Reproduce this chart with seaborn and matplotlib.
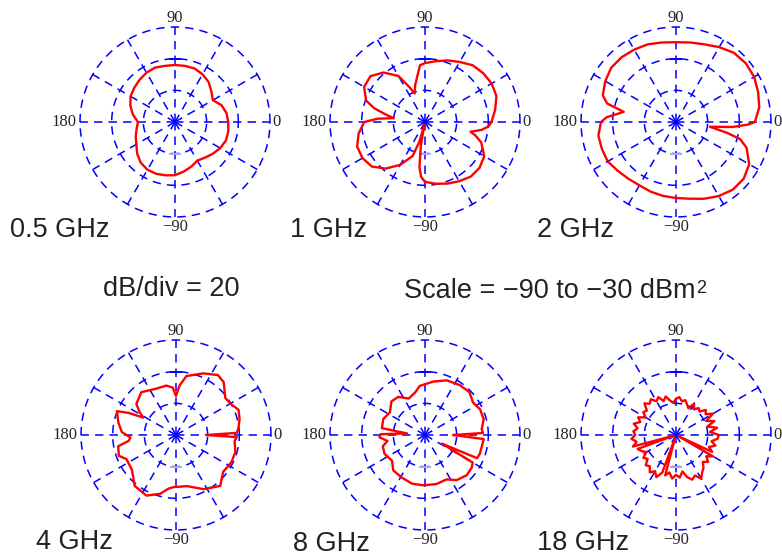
import numpy as np
import seaborn as sns
import matplotlib.pyplot as plt
from matplotlib import font_manager

# RCS patterns in dBsm, angle in degrees
ang_05 = [0, 10, 20, 30, 40, 50, 60, 70, 80, 90, 100, 110, 120, 130, 140, 150, 160, 170,
          180, 190, 200, 210, 220, 230, 240, 250, 260, 270, 280, 290, 300, 310, 320, 330, 340, 350]
rcs_05 = [-56.4, -57, -58.8, -62.4, -60, -57, -55.2, -54, -54, -54, -54, -53.4, -54, -55.2,
          -56.4, -57.6, -60, -63, -66.6, -65.4, -63.6, -61.8, -58.8, -56.4, -55.2, -55.2,
          -55.8, -56.4, -58.2, -60, -61.8, -60.6, -58.8, -57, -55.8, -55.8]

ang_1 = [0, 10, 20, 30, 40, 50, 60, 70, 80, 90, 95, 100, 105, 110, 114, 120, 130, 140, 150,
         160, 165, 170, 173, 176, 180, 190, 200, 210, 220, 230, 240, 250, 254, 257, 260, 263,
         266, 270, 280, 290, 300, 310, 320, 330, 340, 345, 348, 352, 356]
rcs_1 = [-48, -45, -42, -41.4, -42, -43.2, -46.2, -48.6, -51, -52.8, -54, -61.2, -66, -70.8,
         -66, -56.4, -49.2, -45, -45.6, -50.4, -57, -66, -70.2, -60, -51.6, -47.4, -44.4,
         -44.4, -46.2, -51.6, -58.8, -67.2, -76.8, -88.2, -75, -61.2, -55.2, -52.2, -50.4,
         -48.6, -46.8, -45, -45, -46.8, -52.2, -57, -60.6, -54, -49.8]

ang_2 = [0, 10, 20, 30, 40, 50, 60, 70, 80, 90, 100, 110, 120, 130, 140, 150, 160, 165, 169,
         172, 176, 180, 190, 200, 210, 220, 230, 240, 250, 260, 270, 280, 290, 300, 310, 320,
         330, 340, 345, 348, 352, 355, 358]
rcs_2 = [-40.2, -36.6, -34.8, -33, -32.4, -33, -35.4, -37.8, -39, -39.6, -39, -37.8, -37.2,
         -36.6, -36.6, -38.4, -40.8, -45, -56.4, -52.8, -46.2, -42.6, -40.2, -40.2, -40.2,
         -42, -43.2, -43.8, -43.2, -42.6, -42, -40.8, -38.4, -36, -34.2, -34.2, -36.6, -42.6,
         -48, -57, -68.4, -54, -44.4]

ang_4 = [0, 2, 6, 14, 22, 30, 37, 48, 55, 66, 80, 86, 90, 94, 101, 113, 129, 142, 148, 152,
         155, 158, 168, 177, 183, 187, 191, 200, 206, 218, 231, 244, 255, 262, 267, 282, 297,
         311, 322, 334, 344, 354, 358]
rcs_4 = [-70.8, -51.6, -50.4, -48.6, -47.4, -50.4, -51, -45, -43.8, -47.4, -52.2, -58.8, -65.4,
         -60, -58.2, -58.2, -55.2, -58.2, -63, -66.6, -57, -49.8, -52.8, -55.8, -61.2, -60,
         -52.8, -51.6, -55.2, -54.6, -48.6, -47.4, -51.6, -55.8, -57, -57, -51.6, -47.4, -52.2,
         -51, -51, -52.8, -51.6]

ang_8 = [0, 2, 6, 15, 25, 34, 44, 55, 68, 81, 96, 103, 114, 125, 135, 147, 159, 171, 175, 179,
         183, 189, 195, 205, 218, 228, 241, 255, 268, 283, 296, 305, 316, 325, 330, 333, 336,
         341, 349, 356]
rcs_8 = [-72, -53.4, -54, -51.6, -51.6, -53.4, -51, -51.6, -52.8, -55.8, -58.8, -62.4, -64.8,
         -60.6, -60, -63.6, -61.8, -62.4, -78.6, -61.8, -61.2, -66, -62.4, -61.8, -63.6, -60,
         -59.4, -58.2, -58.2, -58.2, -58.8, -55.2, -53.4, -54, -55.2, -78, -54, -53.4, -53.4,
         -52.8]

ang_18 = [0, 5, 10, 15, 20, 25, 30, 35, 40, 45, 50, 55, 60, 65, 70, 75, 80, 85, 90, 95, 100,
          105, 110, 115, 120, 125, 130, 135, 140, 145, 150, 155, 160, 165, 170, 175, 180, 185,
          190, 195, 196, 200, 205, 210, 215, 220, 225, 230, 235, 240, 245, 250, 252, 255, 260,
          265, 270, 275, 280, 285, 290, 295, 300, 305, 310, 315, 320, 325, 330, 334, 335, 340,
          345, 350, 355]
rcs_18 = [-63, -68.4, -63.6, -69.6, -64.2, -69, -63, -67.2, -65.4, -69, -67.8, -70.2, -67.2,
          -71.4, -69.6, -67.2, -68.4, -66, -67.2, -69.6, -67.8, -64.8, -67.2, -63.6, -65.4,
          -62.4, -64.2, -61.8, -66, -64.8, -67.8, -63.6, -66, -62.4, -65.4, -63, -64.2, -61.8,
          -64.8, -61.8, -88.2, -64.2, -66, -68.4, -64.8, -66.6, -63, -64.2, -61.2, -63.6, -60.6,
          -64.8, -88.2, -63.6, -66, -62.4, -64.8, -63, -66.6, -62.4, -60, -61.8, -58.2, -61.2,
          -63, -66, -63.6, -66.6, -63, -88.2, -64.8, -67.8, -64.2, -67.2, -63.6]

freq_labels = ['0.5 GHz', '1 GHz', '2 GHz', '4 GHz', '8 GHz', '18 GHz']
patterns = [(ang_05, rcs_05), (ang_1, rcs_1), (ang_2, rcs_2),
            (ang_4, rcs_4), (ang_8, rcs_8), (ang_18, rcs_18)]
ring_levels = [-70, -50, -30]
angle_labels = {0: '0', 90: '90', 180: '180', 270: '\u221290'}

W, H = 782, 557
R = 95
centers = [(175, 122), (425, 122), (676, 122), (176, 435), (425, 435), (676, 435)]
label_pos = [(10, 230), (290, 230), (537, 230), (36, 542), (293, 544), (537, 543)]

names = {f.name for f in font_manager.fontManager.ttflist}
sans = 'Liberation Sans' if 'Liberation Sans' in names else 'DejaVu Sans'
serif = 'Liberation Serif' if 'Liberation Serif' in names else 'DejaVu Serif'

sns.set_style('white')
plt.rcParams['font.family'] = [sans, 'DejaVu Sans']

fig = plt.figure(figsize=(W / 100, H / 100), dpi=100)
dash = (0, (5.5, 4))
circle = np.linspace(0, 2 * np.pi, 361)
px = 60 / R  # dB per pixel


def polar_panel(cx, cy, ang, rcs):
    ax = fig.add_axes([(cx - R) / W, 1 - (cy + R) / H, 2 * R / W, 2 * R / H], projection='polar')
    ax.grid(False)
    ax.spines['polar'].set_visible(False)
    ax.set_facecolor('none')
    for lev in ring_levels:
        ax.plot(circle, np.full_like(circle, lev), color='blue', lw=1.1, ls=dash, clip_on=False)
    for a in range(0, 360, 30):
        ax.plot([np.deg2rad(a)] * 2, [-90, -30], color='blue', lw=1.1, ls=dash, clip_on=False)
    ax.plot(np.pi / 2, -50, marker='_', color='blue', ms=8, mew=1.2)
    ax.plot(3 * np.pi / 2, -70, marker='_', color='#a8a8f0', ms=8, mew=1.2)

    th = np.deg2rad(np.append(ang, ang[0]))
    r = np.append(rcs, rcs[0])
    sns.lineplot(x=th, y=r, ax=ax, sort=False, estimator=None, color='red', lw=1.7, zorder=5)

    ax.set_ylim(-90, -30)
    ax.set_xticks([])
    ax.set_yticks([])
    ax.set_xlabel('')
    ax.set_ylabel('')

    ax.text(np.pi / 2, -30 + 1 * px, angle_labels[90], ha='center', va='bottom',
            family=serif, fontsize=12)
    ax.text(3 * np.pi / 2, -30 + 2 * px, angle_labels[270], ha='center', va='top',
            family=serif, fontsize=12)
    ax.text(0, -30 + 2 * px, angle_labels[0], ha='left', va='center',
            family=serif, fontsize=12)
    ax.text(np.pi, -30 + 4 * px, angle_labels[180], ha='right', va='center',
            family=serif, fontsize=12)
    return ax


for (cx, cy), (ang, rcs) in zip(centers, patterns):
    polar_panel(cx, cy, ang, rcs)

for (lx, ly), lab in zip(label_pos, freq_labels):
    fig.text(lx / W, 1 - ly / H, lab, ha='left', va='center', fontsize=19.5, color='#222222')

fig.text(103 / W, 1 - 289 / H, 'dB/div = 20', ha='left', va='center', fontsize=19.5,
         color='#222222')
scale = fig.text(404 / W, 1 - 291 / H, 'Scale = \u221290 to \u221230 dBm', ha='left',
                 va='center', fontsize=19.5, color='#222222')
fig.canvas.draw()
bb = scale.get_window_extent()
fig.text((bb.x1 + 1) / W, (bb.y1 - 2) / H, '2', ha='left', va='top', fontsize=13,
         color='#222222')

fig.savefig('out.png', dpi=100, facecolor='white')
